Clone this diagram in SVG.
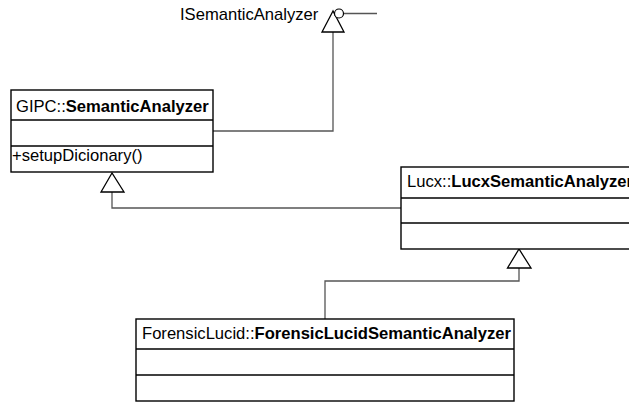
<svg xmlns="http://www.w3.org/2000/svg" width="629" height="402" viewBox="0 0 629 402">
<style>
.box{fill:#fff;stroke:#000;stroke-width:1.4}
.sep{stroke:#000;stroke-width:1.4}
.conn{fill:none;stroke:#555;stroke-width:1.3}
.tri{fill:#fff;stroke:#000;stroke-width:1.3}
text{font-family:"Liberation Sans",Arial,sans-serif;font-size:16.6px;fill:#000}
.b{font-weight:bold}
</style>
<rect width="629" height="402" fill="#fff"/>
<g id="connectors">
<polyline class="conn" points="213,131 333,131 333,32"/>
<polyline class="conn" points="401,208 112,208 112,192"/>
<polyline class="conn" points="325,319 325,281 519,281 519,268"/>
<line class="conn" x1="343.5" y1="13.5" x2="377" y2="13.5" stroke="#000"/>
<polygon class="tri" points="333,11 322,32 344,32"/>
<circle cx="339" cy="13.5" r="4.5" fill="#fff" stroke="#000" stroke-width="1.2"/>
<polygon class="tri" points="112,173 101,192 124,192"/>
<polygon class="tri" points="519,249 507.5,268 531,268"/>
</g>
<g id="ISemanticAnalyzer">
<text x="180" y="20">ISemanticAnalyzer</text>
</g>
<g id="GIPC_SemanticAnalyzer">
<rect class="box" x="11" y="90" width="202" height="82"/>
<line class="sep" x1="11" y1="120" x2="213" y2="120"/>
<line class="sep" x1="11" y1="146" x2="213" y2="146"/>
<text x="16" y="112">GIPC::<tspan class="b">SemanticAnalyzer</tspan></text>
<text x="12" y="161">+setupDicionary()</text>
</g>
<g id="Lucx_LucxSemanticAnalyzer">
<rect class="box" x="401" y="167" width="240" height="82"/>
<line class="sep" x1="401" y1="198" x2="641" y2="198"/>
<line class="sep" x1="401" y1="223" x2="641" y2="223"/>
<text x="407" y="187">Lucx::<tspan class="b">LucxSemanticAnalyzer</tspan></text>
</g>
<g id="ForensicLucid_ForensicLucidSemanticAnalyzer">
<rect class="box" x="136" y="319" width="378" height="82"/>
<line class="sep" x1="136" y1="349" x2="514" y2="349"/>
<line class="sep" x1="136" y1="375" x2="514" y2="375"/>
<text x="142" y="339">ForensicLucid::<tspan class="b">ForensicLucidSemanticAnalyzer</tspan></text>
</g>
</svg>
